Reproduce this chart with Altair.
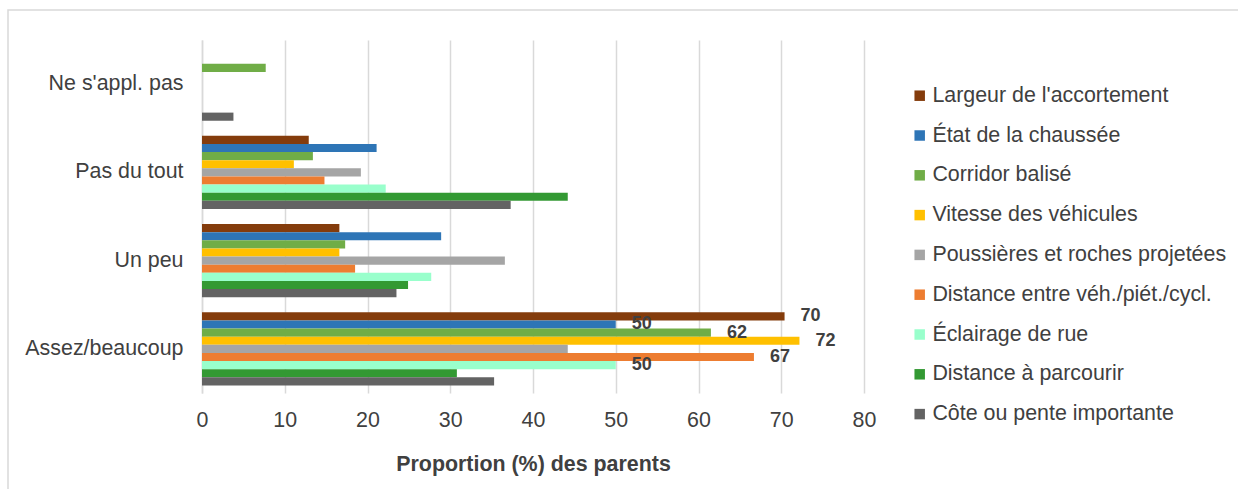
import altair as alt
import pandas as pd

FONT = "Liberation Sans"
TEXT = "#404040"
GRID = "#d9d9d9"
FS = 21.4

categories = ["Ne s'appl. pas", "Pas du tout", "Un peu", "Assez/beaucoup"]

series = [
    "Largeur de l'accortement",
    "État de la chaussée",
    "Corridor balisé",
    "Vitesse des véhicules",
    "Poussières et roches projetées",
    "Distance entre véh./piét./cycl.",
    "Éclairage de rue",
    "Distance à parcourir",
    "Côte ou pente importante",
]

colors = [
    "#843c0c", "#2e75b6", "#70ad47", "#ffc000", "#a5a5a5",
    "#ed7d31", "#99ffcc", "#339933", "#636363",
]

# Proportion (%) per category, in the order of `categories`
largeur = [None, 12.9, 16.6, 70.4]
etat = [None, 21.1, 28.9, 50.0]
corridor = [7.7, 13.4, 17.3, 61.5]
vitesse = [None, 11.1, 16.6, 72.2]
poussieres = [None, 19.2, 36.6, 44.2]
distance_vpc = [None, 14.8, 18.5, 66.7]
eclairage = [None, 22.2, 27.7, 50.0]
distance_parcours = [None, 44.2, 24.9, 30.8]
cote = [3.8, 37.3, 23.5, 35.3]

values = [largeur, etat, corridor, vitesse, poussieres,
          distance_vpc, eclairage, distance_parcours, cote]

# Series whose "Assez/beaucoup" bar carries a value label
labelled = ["Largeur de l'accortement", "État de la chaussée", "Corridor balisé",
            "Vitesse des véhicules", "Distance entre véh./piét./cycl.", "Éclairage de rue"]

rows = []
for name, vals in zip(series, values):
    for cat, v in zip(categories, vals):
        if v is None:
            continue
        rows.append({
            "categorie": cat,
            "facteur": name,
            "valeur": v,
            "etiquette": cat == "Assez/beaucoup" and name in labelled,
        })
df = pd.DataFrame(rows)

y_enc = alt.Y(
    "categorie:N",
    sort=categories,
    scale=alt.Scale(paddingInner=0.17, paddingOuter=0.085),
    axis=alt.Axis(
        title=None, ticks=False, domain=True, domainColor=GRID, domainWidth=1.5,
        labelFontSize=FS, labelColor=TEXT, labelPadding=19, labelFont=FONT,
    ),
)
yoff_enc = alt.YOffset("facteur:N", sort=series, scale=alt.Scale(paddingInner=0, paddingOuter=0))
x_enc = alt.X(
    "valeur:Q",
    scale=alt.Scale(domain=[0, 80], nice=False),
    axis=alt.Axis(
        values=list(range(0, 81, 10)), grid=True, gridColor=GRID, gridWidth=1.5,
        domain=False, ticks=False, labelFontSize=FS, labelColor=TEXT,
        labelPadding=16, labelFont=FONT, labelFlush=False,
        title="Proportion (%) des parents", titleFont=FONT, titleFontSize=FS,
        titleFontWeight="bold", titleColor=TEXT, titleY=71, titleBaseline="middle",
    ),
)

bars = alt.Chart(df).mark_bar().encode(
    y=y_enc,
    yOffset=yoff_enc,
    x=x_enc,
    color=alt.Color(
        "facteur:N",
        sort=series,
        scale=alt.Scale(domain=series, range=colors),
        legend=alt.Legend(
            title=None, orient="none", legendX=707, legendY=45, padding=0,
            symbolType="square", symbolSize=110, symbolStrokeWidth=0,
            labelFontSize=FS, labelColor=TEXT, labelFont=FONT, labelOffset=2,
            rowPadding=16.8, labelLimit=400,
        ),
    ),
)

labels = alt.Chart(df).transform_filter(alt.datum.etiquette).mark_text(
    align="left", baseline="middle", dx=16, fontSize=18, fontWeight="bold",
    color=TEXT, font=FONT,
).encode(
    y=alt.Y("categorie:N", sort=categories),
    yOffset=alt.YOffset("facteur:N", sort=series),
    x=alt.X("valeur:Q"),
    text=alt.Text("valeur:Q", format=".0f"),
)

# Thin frame around the whole figure
frame = alt.Chart(alt.Data(values=[{}])).mark_rect(
    fill="transparent", stroke=GRID, strokeWidth=1.5,
).encode(
    x=alt.value(-194), x2=alt.value(1100),
    y=alt.value(-30), y2=alt.value(500),
)

chart = alt.layer(frame, bars, labels).properties(
    width=662,
    height=353,
    autosize=alt.AutoSizeParams(type="none"),
    padding={"left": 202, "top": 40, "right": 374, "bottom": 96},
).configure(background="white").configure_view(stroke=None)

chart.save("out.html", embed_options={"renderer": "svg", "actions": False})
